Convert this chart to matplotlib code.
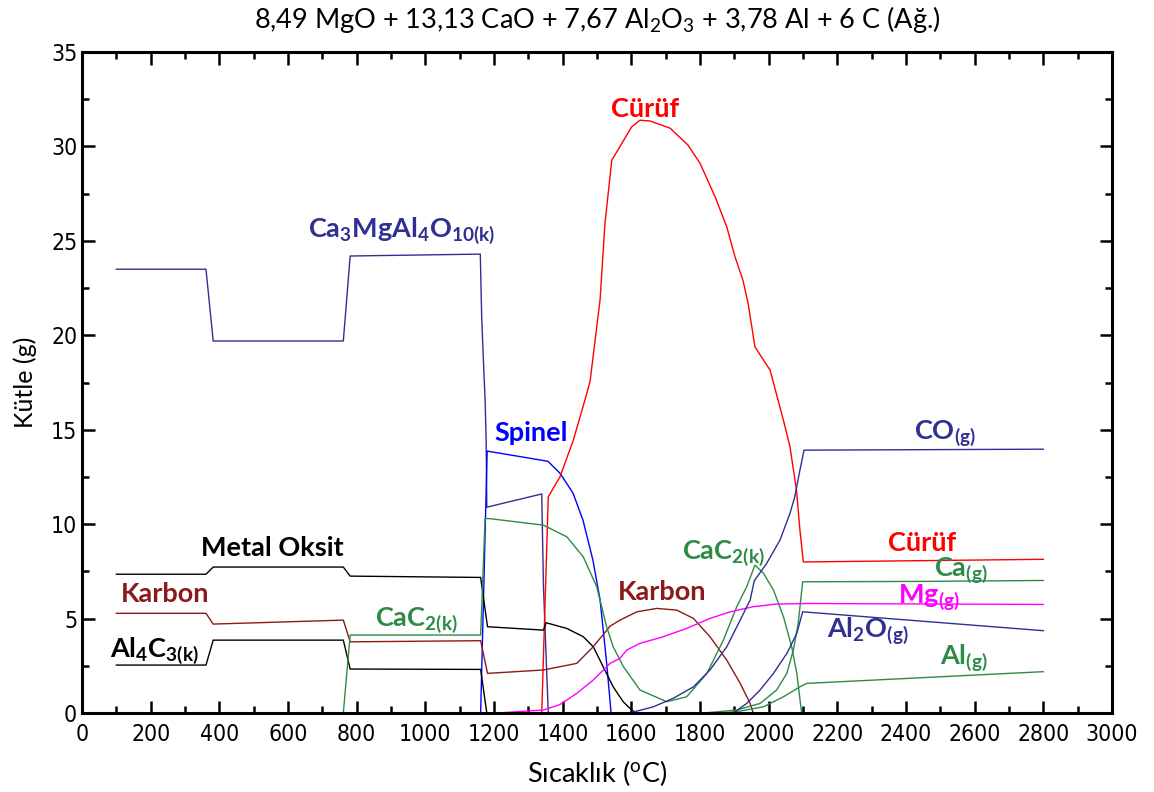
import matplotlib
matplotlib.use("Agg")
import matplotlib.pyplot as plt
from matplotlib.ticker import MultipleLocator

plt.rcParams['font.family'] = ['Lato', 'DejaVu Sans']
plt.rcParams['mathtext.fontset'] = 'custom'
plt.rcParams['mathtext.rm'] = 'Lato'
plt.rcParams['mathtext.bf'] = 'Lato:bold'
plt.rcParams['mathtext.it'] = 'Lato:italic'

# equilibrium masses (g) vs temperature (C)
ca3mg_T = [100, 361, 382, 761, 781, 1160, 1164, 1169, 1174, 1177, 1179, 1339, 1344, 1358]
ca3mg_m = [23.5, 23.5, 19.7, 19.7, 24.2, 24.3, 21.0, 18.7, 16.6, 14.5, 10.9, 11.6, 6.7, 0.0]

spinel_T = [1161, 1180, 1357, 1392, 1430, 1459, 1488, 1509, 1528, 1541]
spinel_m = [0.0, 13.87, 13.33, 12.7, 11.65, 10.22, 8.1, 5.98, 2.65, 0.0]

curuf_T = [1339, 1358, 1392, 1431, 1470, 1480, 1509, 1523, 1543, 1601, 1625, 1654, 1713,
           1765, 1800, 1844, 1878, 1902, 1925, 1940, 1960, 2004, 2043, 2062, 2081, 2091,
           2101, 2800]
curuf_m = [0.0, 11.45, 12.5, 14.45, 16.9, 17.6, 21.9, 25.9, 29.27, 31.04, 31.39, 31.35, 30.97,
           30.07, 29.11, 27.33, 25.74, 24.15, 22.92, 21.7, 19.39, 18.16, 15.5, 14.1, 11.8, 9.69,
           8.0, 8.14]

metal_T = [100, 361, 382, 761, 781, 1161, 1181, 1344, 1352, 1412, 1460, 1489, 1518, 1547,
           1576, 1601, 1615]
metal_m = [7.35, 7.35, 7.73, 7.73, 7.25, 7.18, 4.57, 4.39, 4.78, 4.48, 4.04, 3.51, 2.45, 1.39,
           0.6, 0.16, 0.0]

al4c3_T = [100, 361, 382, 761, 781, 1161, 1179]
al4c3_m = [2.54, 2.54, 3.86, 3.86, 2.33, 2.31, 0.0]

karbon_T = [100, 361, 382, 761, 781, 1161, 1181, 1344, 1441, 1489, 1538, 1567, 1616, 1674,
            1732, 1781, 1829, 1878, 1917, 1946, 1955]
karbon_m = [5.28, 5.28, 4.71, 4.92, 3.77, 3.83, 2.1, 2.28, 2.63, 3.51, 4.6, 4.92, 5.36, 5.54,
            5.45, 5.01, 4.04, 2.8, 1.57, 0.51, 0.0]

cac2_T = [761, 781, 1161, 1174, 1184, 1344, 1412, 1460, 1499, 1528, 1547, 1577, 1625, 1703,
          1761, 1820, 1868, 1907, 1936, 1960, 1985, 2014, 2043, 2067, 2082, 2096]
cac2_m = [0.0, 4.13, 4.13, 10.3, 10.3, 9.95, 9.33, 8.27, 6.69, 4.57, 3.51, 2.45, 1.22, 0.6,
          0.86, 2.1, 3.86, 5.63, 6.69, 7.83, 7.4, 6.51, 5.1, 3.51, 2.1, 0.0]

ca_T = [1810, 1907, 1975, 2023, 2053, 2072, 2086, 2099, 2450, 2800]
ca_m = [0.0, 0.16, 0.51, 1.22, 2.1, 3.34, 4.75, 6.95, 6.97, 7.02]

alg_T = [1850, 1907, 1985, 2043, 2091, 2111, 2800]
alg_m = [0.0, 0.07, 0.33, 0.86, 1.39, 1.57, 2.19]

mg_T = [1208, 1344, 1392, 1441, 1489, 1538, 1567, 1587, 1625, 1693, 1761, 1829, 1888, 1955,
        2023, 2111, 2800]
mg_m = [0.0, 0.16, 0.45, 1.04, 1.75, 2.63, 2.9, 3.34, 3.69, 4.04, 4.48, 5.01, 5.36, 5.63,
        5.77, 5.8, 5.75]

co_T = [1595, 1664, 1722, 1781, 1829, 1878, 1917, 1946, 1958, 1994, 2033, 2062, 2076, 2091,
        2103, 2800]
co_m = [0.0, 0.33, 0.78, 1.39, 2.28, 3.51, 4.92, 5.98, 7.0, 7.92, 9.16, 10.57, 11.45, 12.86,
        13.92, 13.97]

al2o_T = [1897, 1936, 1975, 2014, 2053, 2082, 2099, 2800]
al2o_m = [0.0, 0.51, 1.22, 2.1, 3.16, 4.22, 5.36, 4.36]

navy = '#2e3192'
green = '#2e8b46'
dark_red = '#8b1a1a'

fig = plt.figure(figsize=(11.54, 7.92), dpi=100)
ax = fig.add_axes([0.0711, 0.0997, 0.8925, 0.8346])

lw = 1.0
ax.plot(ca3mg_T, ca3mg_m, color=navy, lw=lw)
ax.plot(spinel_T, spinel_m, color='#0000ff', lw=lw)
ax.plot(curuf_T, curuf_m, color='#ff0000', lw=lw)
ax.plot(metal_T, metal_m, color='black', lw=lw)
ax.plot(al4c3_T, al4c3_m, color='black', lw=lw)
ax.plot(karbon_T, karbon_m, color=dark_red, lw=lw)
ax.plot(cac2_T, cac2_m, color=green, lw=lw)
ax.plot(ca_T, ca_m, color=green, lw=lw)
ax.plot(alg_T, alg_m, color=green, lw=lw)
ax.plot(mg_T, mg_m, color='#ff00ff', lw=lw)
ax.plot(co_T, co_m, color=navy, lw=lw)
ax.plot(al2o_T, al2o_m, color=navy, lw=lw)

# species labels
fs = 19.5
labels = [
    (930, 25.57, r'$\mathbf{Ca_3MgAl_4O_{10(k)}}$', navy),
    (1308, 14.82, 'Spinel', '#0000ff'),
    (1640, 31.97, 'Cürüf', '#ff0000'),
    (553, 8.73, 'Metal Oksit', 'black'),
    (242, 6.3, 'Karbon', dark_red),
    (212, 3.33, r'$\mathbf{Al_4C_{3(k)}}$', 'black'),
    (973, 4.92, r'$\mathbf{CaC_{2(k)}}$', green),
    (1689, 6.4, 'Karbon', dark_red),
    (1867, 8.47, r'$\mathbf{CaC_{2(k)}}$', green),
    (2514, 14.82, r'$\mathbf{CO_{(g)}}$', navy),
    (2447, 9.0, 'Cürüf', '#ff0000'),
    (2560, 7.55, r'$\mathbf{Ca_{(g)}}$', green),
    (2467, 6.12, r'$\mathbf{Mg_{(g)}}$', '#ff00ff'),
    (2290, 4.34, r'$\mathbf{Al_2O_{(g)}}$', navy),
    (2569, 2.96, r'$\mathbf{Al_{(g)}}$', green),
]
for x, y, s, c in labels:
    ax.text(x, y, s, color=c, fontsize=fs, fontweight='bold', ha='center', va='center')

ax.set_xlim(0, 3000)
ax.set_ylim(0, 35)
ax.xaxis.set_major_locator(MultipleLocator(200))
ax.xaxis.set_minor_locator(MultipleLocator(100))
ax.yaxis.set_major_locator(MultipleLocator(5))
ax.yaxis.set_minor_locator(MultipleLocator(2.5))
ax.tick_params(which='both', direction='in', top=True, right=True, width=1.8, colors='black')
ax.tick_params(which='major', length=9)
ax.tick_params(which='minor', length=5)
ax.tick_params(axis='x', pad=7)
for lab in ax.get_xticklabels() + ax.get_yticklabels():
    lab.set_family('DejaVu Sans')
    lab.set_stretch('condensed')
    lab.set_fontsize(16.5)
for sp in ax.spines.values():
    sp.set_linewidth(2.2)

ax.set_xlabel(r'Sıcaklık ($^{\mathrm{o}}$C)', fontsize=19.5, labelpad=9)
ax.set_ylabel('Kütle (g)', fontsize=18, labelpad=10)
ax.set_title(r'8,49 MgO + 13,13 CaO + 7,67 Al$_2$O$_3$ + 3,78 Al + 6 C (Ağ.)', fontsize=19.5, pad=17)

fig.savefig('out.png', dpi=100)
